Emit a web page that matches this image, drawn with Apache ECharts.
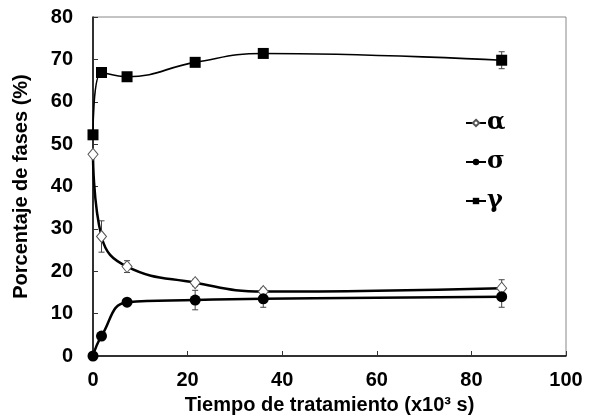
<!DOCTYPE html>
<html><head><meta charset="utf-8">
<script src="https://cdn.jsdelivr.net/npm/echarts@6/dist/echarts.min.js"></script>
<style>html,body{margin:0;padding:0;background:#fff}#c{width:591px;height:417px}</style>
</head><body><div id="c"></div>
<script>
const times = [0, 1.8, 7.2, 21.6, 36, 86.4];
const alphaVals = [47.6, 28.2, 21.1, 17.3, 15.2, 16.0];
const sigmaVals = [0, 4.7, 12.7, 13.2, 13.5, 14.0];
const gammaVals = [52.2, 66.9, 65.9, 69.3, 71.4, 69.8];
const alphaErr = [0, 3.7, 1.4, 0.8, 0.8, 2.0];
const sigmaErr = [0, 0, 0, 2.3, 2.0, 2.5];
const gammaErr = [0, 0, 0, 0, 0, 2.0];
const seriesNames = ['α', 'σ', 'γ'];
const xTicks = [0, 20, 40, 60, 80, 100];
const yTicks = [0, 10, 20, 30, 40, 50, 60, 70, 80];

const pts = v => times.map((t, i) => [t, v[i]]);
const errPts = (v, e) => times.map((t, i) => [t, v[i], e[i]]);

function errRender(params, api) {
  const x = api.value(0), y = api.value(1), e = api.value(2);
  if (!e) return null;
  const top = api.coord([x, y + e]);
  const bot = api.coord([x, y - e]);
  const w = 3;
  const st = { stroke: '#444', lineWidth: 1 };
  return { type: 'group', children: [
    { type: 'line', shape: { x1: top[0], y1: top[1], x2: bot[0], y2: bot[1] }, style: st },
    { type: 'line', shape: { x1: top[0]-w, y1: top[1], x2: top[0]+w, y2: top[1] }, style: st },
    { type: 'line', shape: { x1: bot[0]-w, y1: bot[1], x2: bot[0]+w, y2: bot[1] }, style: st }
  ]};
}

const font = '"Liberation Sans", Arial, sans-serif';
const chart = echarts.init(document.getElementById('c'), null, { renderer: 'canvas' });
chart.setOption({
  animation: false,
  backgroundColor: '#fff',
  grid: { left: 93, right: 25, top: 17, bottom: 61, show: true, borderColor: '#888', borderWidth: 1,
    containLabel: false, outerBoundsMode: 'none' },
  legend: {
    data: seriesNames,
    orient: 'vertical',
    left: 460, top: 106,
    itemWidth: 20, itemHeight: 8, itemGap: 15,
    textStyle: { fontFamily: '"DejaVu Serif", "Liberation Serif", serif', fontWeight: 'bold', fontSize: 24, color: '#000', padding: [0, 0, 0, -4] }
  },
  xAxis: {
    type: 'value', min: 0, max: 100, interval: 20,
    name: 'Tiempo de tratamiento (x10³ s)', nameLocation: 'middle', nameGap: 39,
    nameTextStyle: { fontFamily: font, fontWeight: 'bold', fontSize: 20, color: '#000' },
    axisLine: { lineStyle: { color: '#000', width: 1.5 } },
    axisTick: { inside: true, length: 5, lineStyle: { color: '#333' } },
    axisLabel: { fontFamily: font, fontWeight: 'bold', fontSize: 20, color: '#000', margin: 14,
      formatter: v => xTicks.includes(v) ? String(v) : '' },
    splitLine: { show: false }
  },
  yAxis: {
    type: 'value', min: 0, max: 80, interval: 10,
    name: 'Porcentaje de fases (%)', nameLocation: 'middle', nameGap: 62,
    nameTextStyle: { fontFamily: font, fontWeight: 'bold', fontSize: 20, color: '#000' },
    axisLine: { show: true, lineStyle: { color: '#000', width: 1.5 } },
    axisTick: { show: true, inside: true, length: 5, lineStyle: { color: '#333' } },
    axisLabel: { fontFamily: font, fontWeight: 'bold', fontSize: 20, color: '#000', margin: 20,
      formatter: v => yTicks.includes(v) ? String(v) : '' },
    splitLine: { show: false }
  },
  series: [
    { type: 'custom', name: 'errA', renderItem: errRender, data: errPts(alphaVals, alphaErr), z: 1, encode: { x: 0, y: 1 } },
    { type: 'custom', name: 'errS', renderItem: errRender, data: errPts(sigmaVals, sigmaErr), z: 1, encode: { x: 0, y: 1 } },
    { type: 'custom', name: 'errG', renderItem: errRender, data: errPts(gammaVals, gammaErr), z: 1, encode: { x: 0, y: 1 } },
    { type: 'line', name: 'α', data: pts(alphaVals), smooth: 0.45, z: 3,
      symbol: 'diamond', symbolSize: [10, 12],
      itemStyle: { color: '#fff', borderColor: '#555', borderWidth: 1 },
      lineStyle: { color: '#000', width: 2.5 } },
    { type: 'line', name: 'σ', data: pts(sigmaVals), smooth: 0.45, z: 3,
      symbol: 'circle', symbolSize: 11,
      itemStyle: { color: '#000', borderColor: '#000', borderWidth: 0 },
      lineStyle: { color: '#000', width: 2.5 } },
    { type: 'line', name: 'γ', data: pts(gammaVals), smooth: 0.45, z: 4,
      symbol: 'rect', symbolSize: 11,
      itemStyle: { color: '#000', borderColor: '#000', borderWidth: 0 },
      lineStyle: { color: '#000', width: 1.6 } }
  ]
});
</script></body></html>
